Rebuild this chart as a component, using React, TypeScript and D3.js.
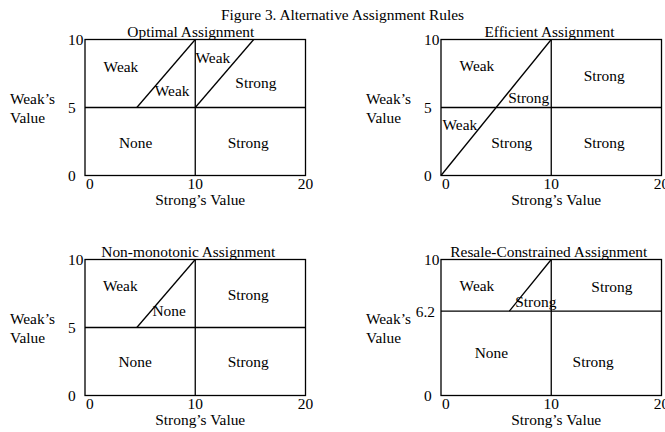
import React from "react";
import * as d3 from "d3";

const figureTitle = "Figure 3. Alternative Assignment Rules";
const panelTitles = [
  "Optimal Assignment",
  "Efficient Assignment",
  "Non-monotonic Assignment",
  "Resale-Constrained Assignment",
];
// x position (in Strong's value units) of each panel title's centre
const panelTitleX = [9.6, 9.84, 9.37, 9.78];
const xTickValues = [0, 10, 20];
const yTickValues = [
  [0, 5, 10],
  [0, 5, 10],
  [0, 5, 10],
  [0, 6.2, 10],
];
const xAxisLabel = "Strong\u2019s Value";
const yAxisLabel = ["Weak\u2019s", "Value"];

// boundary segments in value space: [x1, y1, x2, y2]
const optimalLines = [
  [0, 5, 20, 5],
  [10, 0, 10, 10],
  [4.7, 5, 10, 10],
  [10, 5, 15.3, 10],
];
const efficientLines = [
  [0, 5, 20, 5],
  [10, 0, 10, 10],
  [0, 0, 10, 10],
];
const nonMonotonicLines = [
  [0, 5, 20, 5],
  [10, 0, 10, 10],
  [4.7, 5, 10, 10],
];
const resaleLines = [
  [0, 6.2, 20, 6.2],
  [10, 0, 10, 10],
  [6.2, 6.2, 10, 10],
];

// region labels: [text, x, y] in value space (y = baseline)
const optimalLabels: [string, number, number][] = [
  ["Weak", 3.26, 7.64],
  ["Weak", 7.9, 5.82],
  ["Weak", 11.6, 8.28],
  ["Strong", 15.5, 6.44],
  ["None", 4.59, 1.99],
  ["Strong", 14.8, 1.99],
];
const efficientLabels: [string, number, number][] = [
  ["Weak", 3.26, 7.72],
  ["Strong", 14.8, 6.96],
  ["Strong", 7.95, 5.3],
  ["Weak", 1.71, 3.32],
  ["Strong", 6.42, 2.0],
  ["Strong", 14.8, 2.0],
];
const nonMonotonicLabels: [string, number, number][] = [
  ["Weak", 3.2, 7.7],
  ["None", 7.63, 5.84],
  ["Strong", 14.8, 7.02],
  ["None", 4.55, 2.08],
  ["Strong", 14.8, 2.08],
];
const resaleLabels: [string, number, number][] = [
  ["Weak", 3.26, 7.7],
  ["Strong", 15.5, 7.63],
  ["Strong", 8.6, 6.52],
  ["None", 4.57, 2.74],
  ["Strong", 13.8, 2.08],
];

const panelLines = [optimalLines, efficientLines, nonMonotonicLines, resaleLines];
const panelLabels = [optimalLabels, efficientLabels, nonMonotonicLabels, resaleLabels];

const W = 665;
const H = 432;
const colLeft = [85, 441];
const rowTop = [39.5, 259.5];
const PW = 220.5;
const PH = 136;
const FONT = "'Liberation Serif', 'Times New Roman', Times, serif";
const FS = 15.4;
const SW = 1.3;

function Panel({ idx }: { idx: number }) {
  const left = colLeft[idx % 2];
  const top = rowTop[Math.floor(idx / 2)];
  const x = d3.scaleLinear().domain([0, 20]).range([left, left + PW]);
  const y = d3.scaleLinear().domain([0, 10]).range([top + PH, top]);
  const bottom = y(0);
  return (
    <g>
      <rect
        x={x(0)}
        y={y(10)}
        width={x(20) - x(0)}
        height={y(0) - y(10)}
        fill="none"
        stroke="#000"
        strokeWidth={SW}
      />
      {panelLines[idx].map((s, i) => (
        <line
          key={i}
          x1={x(s[0])}
          y1={y(s[1])}
          x2={x(s[2])}
          y2={y(s[3])}
          stroke="#000"
          strokeWidth={SW}
        />
      ))}
      {panelLabels[idx].map(([t, vx, vy], i) => (
        <text key={i} x={x(vx)} y={y(vy)} textAnchor="middle">
          {t}
        </text>
      ))}
      <text x={x(panelTitleX[idx])} y={y(10) - 3} textAnchor="middle">
        {panelTitles[idx]}
      </text>
      {xTickValues.map((v, i) => (
        <text
          key={i}
          x={v === 0 ? x(v) + 1 : x(v)}
          y={bottom + 13.5}
          textAnchor={v === 0 ? "start" : "middle"}
        >
          {d3.format("~g")(v)}
        </text>
      ))}
      {yTickValues[idx].map((v, i) =>
        Number.isInteger(v) ? (
          <text key={i} x={left - 17} y={y(v) + 5.5} textAnchor="start">
            {d3.format("~g")(v)}
          </text>
        ) : (
          <text key={i} x={left - 6} y={y(v) + 5.6} textAnchor="end">
            {d3.format("~g")(v)}
          </text>
        )
      )}
      <text x={x(10) + 5} y={bottom + 29.8} textAnchor="middle">
        {xAxisLabel}
      </text>
      <text x={left - 75} y={y(5) - 3.8} textAnchor="start">
        {yAxisLabel[0]}
      </text>
      <text x={left - 75} y={y(5) + 15.2} textAnchor="start">
        {yAxisLabel[1]}
      </text>
    </g>
  );
}

export default function App() {
  return (
    <svg
      width={W}
      height={H}
      style={{ position: "absolute", left: 0, top: 0, background: "#fff" }}
      fontFamily={FONT}
      fontSize={FS}
      fill="#000"
    >
      <rect x={0} y={0} width={W} height={H} fill="#fff" />
      <text x={342.5} y={20} textAnchor="middle">
        {figureTitle}
      </text>
      {[0, 1, 2, 3].map((i) => (
        <Panel key={i} idx={i} />
      ))}
    </svg>
  );
}
